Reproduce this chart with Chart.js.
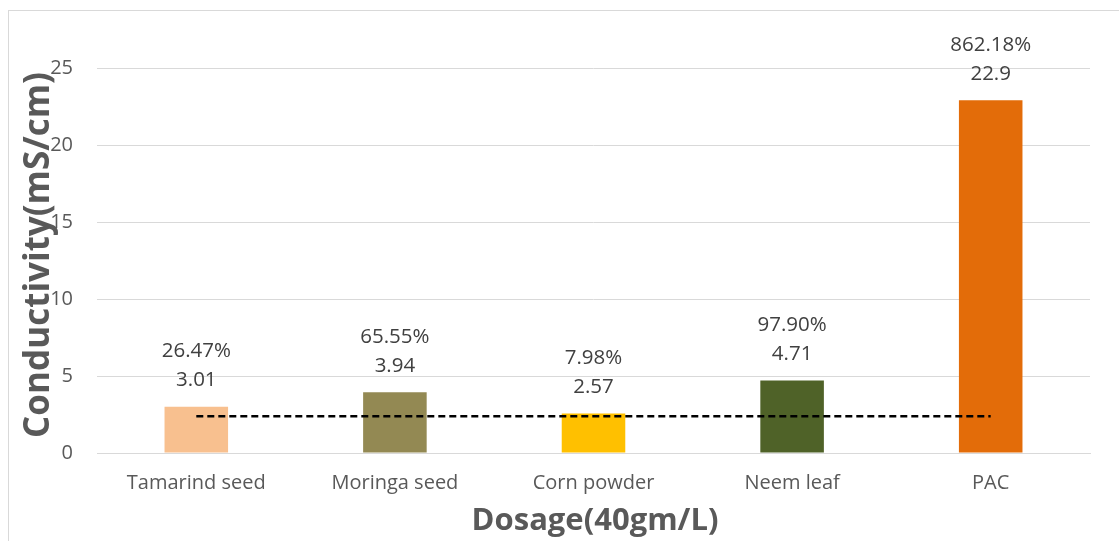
<!DOCTYPE html>
<html>
<head>
<meta charset="utf-8">
<script src="https://cdn.jsdelivr.net/npm/chart.js@4/dist/chart.umd.min.js"></script>
<style>
  html, body { margin: 0; padding: 0; background: #ffffff; }
  #wrap { width: 1119px; height: 541px; position: relative; }
</style>
</head>
<body>
<div id="wrap"><canvas id="c" width="1119" height="541"></canvas></div>
<script>
// Conductivity after treatment with each coagulant at 40 gm/L
const categories = ['Tamarind seed', 'Moringa seed', 'Corn powder', 'Neem leaf', 'PAC'];
const conductivity = [3.01, 3.94, 2.57, 4.71, 22.9];
const percentChange = ['26.47%', '65.55%', '7.98%', '97.90%', '862.18%'];
const baseline = [2.38, 2.38, 2.38, 2.38, 2.38];
const barColors = ['#F8C08F', '#938953', '#FFC000', '#4F6228', '#E36C09'];
const yTicks = [0, 5, 10, 15, 20, 25];

const FONT = '"Open Sans", "Liberation Sans", sans-serif';
const TEXT = '#595959';

// Frame, axis titles and two-line value labels above each bar
const decorations = {
  id: 'decorations',
  beforeDraw(chart) {
    const ctx = chart.ctx;
    ctx.save();
    ctx.strokeStyle = '#d9d9d9';
    ctx.lineWidth = 1;
    ctx.strokeRect(8.5, 10.5, 1130, 560);
    ctx.restore();
  },
  afterDraw(chart) {
    const ctx = chart.ctx;
    ctx.save();
    ctx.fillStyle = TEXT;
    ctx.textAlign = 'center';
    ctx.textBaseline = 'middle';
    ctx.font = 'bold 31px ' + FONT;
    ctx.fillText('Dosage(40gm/L)', 595, 521);
    ctx.font = 'bold 35px ' + FONT;
    ctx.translate(39, 255);
    ctx.rotate(-Math.PI / 2);
    ctx.fillText('Conductivity(mS/cm)', 0, 0);
    ctx.restore();

    const meta = chart.getDatasetMeta(0);
    ctx.save();
    ctx.fillStyle = '#404040';
    ctx.font = '20.5px ' + FONT;
    ctx.textAlign = 'center';
    ctx.textBaseline = 'middle';
    meta.data.forEach((bar, i) => {
      ctx.fillText(String(conductivity[i]), bar.x, bar.y - 26);
      ctx.fillText(percentChange[i], bar.x, bar.y - 55);
    });
    ctx.restore();
  }
};

new Chart(document.getElementById('c'), {
  data: {
    labels: categories,
    datasets: [
      {
        type: 'bar',
        data: conductivity,
        backgroundColor: barColors,
        borderWidth: 0,
        categoryPercentage: 1,
        barPercentage: 0.32,
        order: 2
      },
      {
        type: 'line',
        data: baseline,
        borderColor: '#000000',
        borderWidth: 2.5,
        borderDash: [7, 4],
        pointRadius: 0,
        fill: false,
        order: 1
      }
    ]
  },
  options: {
    responsive: false,
    animation: false,
    layout: { padding: { left: 0, right: 29, top: 68, bottom: 0 } },
    plugins: { legend: { display: false }, tooltip: { enabled: false } },
    scales: {
      x: {
        grid: { display: false, drawTicks: false },
        border: { color: '#d9d9d9', width: 1 },
        ticks: { color: TEXT, font: { family: FONT, size: 20 }, padding: 18, maxRotation: 0 },
        afterFit(scale) { scale.height = 88; }
      },
      y: {
        min: 0,
        max: 25,
        afterBuildTicks(scale) { scale.ticks = yTicks.map(v => ({ value: v })); },
        grid: { color: '#d9d9d9', drawTicks: false },
        border: { display: false },
        ticks: { color: TEXT, font: { family: FONT, size: 20 }, padding: 24 },
        afterFit(scale) { scale.width = 97; }
      }
    }
  },
  plugins: [decorations]
});
</script>
</body>
</html>
